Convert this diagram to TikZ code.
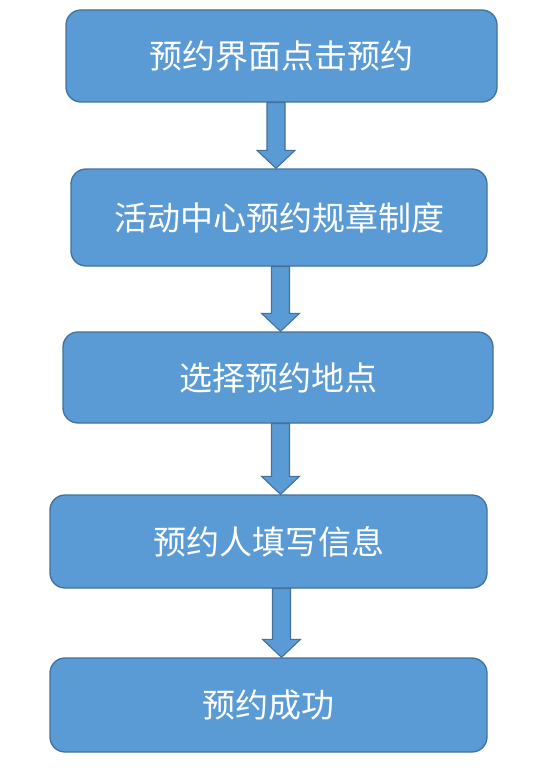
\documentclass[tikz,border=0pt]{standalone}
\usepackage{fontspec}
\usepackage{tikz}
\usetikzlibrary{calc}
\newfontfamily\cjk{Noto Sans CJK SC}
\definecolor{boxfill}{HTML}{5B9BD5}
\definecolor{boxline}{HTML}{41719C}

\tikzset{
  stepbox/.style={fill=boxfill, draw=boxline, line width=1.3pt, rounded corners=15pt,
    text=white, font=\cjk\fontsize{33}{38}\selectfont, inner sep=0pt},
  arrowshape/.style={fill=boxfill, draw=boxline, line width=1.1pt, line join=miter}
}
% block arrow: #1 upper box, #2 lower box, #3 x position
\newcommand{\flowarrow}[3]{%
  \draw[arrowshape] ($(#3,0 |- #1.south)+(-9,0)$) -- ++(18,0)
    -- ($(#3,0 |- #2.north)+(9,-18)$) -- ++(10,0) -- (#3,0 |- #2.north)
    -- ++(-19,-18) -- ++(10,0) -- cycle;}

\begin{document}
\begin{tikzpicture}[x=1pt, y=-1pt]
\useasboundingbox (0,0) rectangle (550,773);
\node[stepbox, minimum width=431pt, minimum height=92pt] (reserve) at (281.5,56) {预约界面点击预约};
\node[stepbox, minimum width=416pt, minimum height=97pt] (rules) at (279,217.5) {活动中心预约规章制度};
\node[stepbox, minimum width=430pt, minimum height=91pt] (place) at (278,377.5) {选择预约地点};
\node[stepbox, minimum width=437pt, minimum height=93pt] (fill) at (268.5,541.5) {预约人填写信息};
\node[stepbox, minimum width=437pt, minimum height=94pt] (done) at (268.5,705) {预约成功};
\flowarrow{reserve}{rules}{276}
\flowarrow{rules}{place}{280.5}
\flowarrow{place}{fill}{280.5}
\flowarrow{fill}{done}{281.5}
\end{tikzpicture}
\end{document}
